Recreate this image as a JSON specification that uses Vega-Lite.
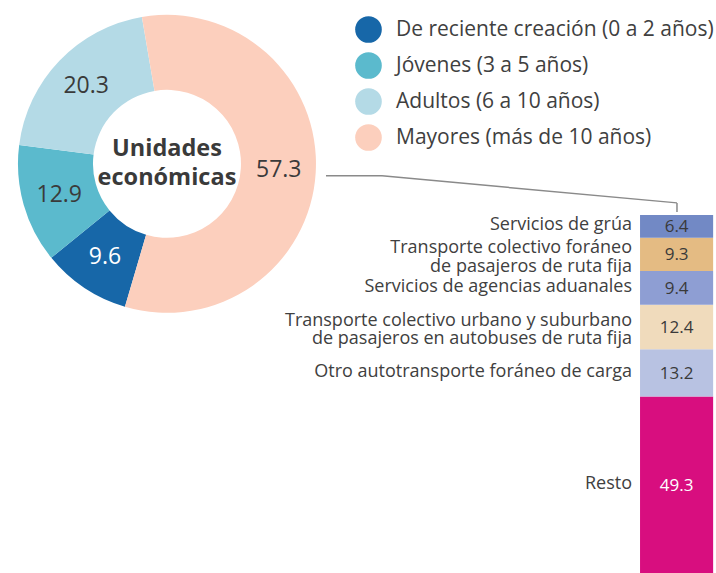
{
  "$schema": "https://vega.github.io/schema/vega-lite/v6.json",
  "width": 716,
  "height": 573,
  "autosize": {"type": "none"},
  "padding": 0,
  "background": "white",
  "config": {"view": {"stroke": null}, "font": "Open Sans"},
  "datasets": {
    "edad": [
      {"grupo": "De reciente creación (0 a 2 años)", "pct": 9.6, "orden": 2},
      {"grupo": "Jóvenes (3 a 5 años)", "pct": 12.9, "orden": 3},
      {"grupo": "Adultos (6 a 10 años)", "pct": 20.3, "orden": 4},
      {"grupo": "Mayores (más de 10 años)", "pct": 57.3, "orden": 1}
    ],
    "actividad": [
      {"actividad": "Resto", "pct": 49.3, "orden": 1},
      {"actividad": "Otro autotransporte foráneo de carga", "pct": 13.2, "orden": 2},
      {"actividad": "Transporte colectivo urbano y suburbano\nde pasajeros en autobuses de ruta fija", "pct": 12.4, "orden": 3},
      {"actividad": "Servicios de agencias aduanales", "pct": 9.4, "orden": 4},
      {"actividad": "Transporte colectivo foráneo\nde pasajeros de ruta fija", "pct": 9.3, "orden": 5},
      {"actividad": "Servicios de grúa", "pct": 6.4, "orden": 6}
    ],
    "uno": [{}]
  },
  "layer": [
    {
      "data": {"name": "edad"},
      "mark": {"type": "arc", "radius": 149, "innerRadius": 74},
      "encoding": {
        "x": {"datum": 23.32, "type": "quantitative", "scale": {"domain": [0, 100], "nice": false, "zero": false}, "axis": null},
        "y": {"datum": 114.25, "type": "quantitative", "scale": {"domain": [0, 160], "nice": false, "zero": false}, "axis": null},
        "theta": {"field": "pct", "type": "quantitative", "stack": true, "scale": {"range": [-0.169, 6.114]}},
        "order": {"field": "orden", "type": "quantitative"},
        "color": {
          "field": "grupo", "type": "nominal",
          "scale": {
            "domain": ["De reciente creación (0 a 2 años)", "Jóvenes (3 a 5 años)", "Adultos (6 a 10 años)", "Mayores (más de 10 años)"],
            "range": ["#1767a8", "#5bbacd", "#b4dae6", "#fccfbd"]
          },
          "legend": {
            "orient": "none", "legendX": 355, "legendY": 16, "title": null,
            "symbolType": "circle", "symbolSize": 710, "symbolStrokeWidth": 0, "symbolOpacity": 1,
            "labelFontSize": 21, "labelColor": "#404040", "labelFont": "Open Sans", "labelLimit": 400,
            "rowPadding": 9, "labelOffset": 14, "padding": 0
          }
        }
      }
    },
    {
      "data": {"name": "edad"},
      "mark": {"type": "text", "radius": 112, "fontSize": 23, "align": "center", "baseline": "middle"},
      "encoding": {
        "x": {"datum": 23.32, "type": "quantitative", "scale": {"domain": [0, 100], "nice": false, "zero": false}, "axis": null},
        "y": {"datum": 114.25, "type": "quantitative", "scale": {"domain": [0, 160], "nice": false, "zero": false}, "axis": null},
        "theta": {"field": "pct", "type": "quantitative", "stack": true, "scale": {"range": [-0.169, 6.114]}},
        "order": {"field": "orden", "type": "quantitative"},
        "text": {"field": "pct", "type": "quantitative", "format": ".1f"},
        "color": {"condition": {"test": "datum.orden === 2", "value": "#ffffff"}, "value": "#3a3a3a"}
      }
    },
    {
      "data": {"name": "uno"},
      "mark": {"type": "text", "fontSize": 23.5, "fontWeight": "bold", "align": "center", "baseline": "middle", "lineHeight": 29, "dy": -15, "color": "#3a3a3a"},
      "encoding": {
        "x": {"datum": 23.32, "type": "quantitative", "scale": {"domain": [0, 100], "nice": false, "zero": false}, "axis": null},
        "y": {"datum": 114.25, "type": "quantitative", "scale": {"domain": [0, 160], "nice": false, "zero": false}, "axis": null},
        "text": {"value": ["Unidades", "económicas"]}
      }
    },
    {
      "data": {"name": "actividad"},
      "transform": [
        {"stack": "pct", "groupby": [], "sort": [{"field": "orden", "order": "ascending"}], "as": ["y0", "y1"]},
        {"calculate": "(datum.y0 + datum.y1) / 2", "as": "ymid"}
      ],
      "layer": [
        {
          "mark": {"type": "rect"},
          "encoding": {
            "x": {"datum": 89.39, "type": "quantitative", "scale": {"domain": [0, 100], "nice": false, "zero": false}, "axis": null},
            "x2": {"datum": 99.6},
            "y": {"field": "y0", "type": "quantitative", "scale": {"domain": [0, 160], "nice": false, "zero": false}, "axis": null},
            "y2": {"field": "y1"},
            "fill": {
              "field": "actividad", "type": "nominal", "legend": null,
              "scale": {
                "domain": ["Resto", "Otro autotransporte foráneo de carga", "Transporte colectivo urbano y suburbano\nde pasajeros en autobuses de ruta fija", "Servicios de agencias aduanales", "Transporte colectivo foráneo\nde pasajeros de ruta fija", "Servicios de grúa"],
                "range": ["#d80e7f", "#b8c2e2", "#f0dbbc", "#8e9ed3", "#e4bb83", "#7289c5"]
              }
            }
          }
        },
        {
          "mark": {"type": "text", "fontSize": 17, "align": "center", "baseline": "middle", "dy": 1},
          "encoding": {
            "x": {"datum": 94.5, "type": "quantitative", "scale": {"domain": [0, 100], "nice": false, "zero": false}, "axis": null},
            "y": {"field": "ymid", "type": "quantitative", "scale": {"domain": [0, 160], "nice": false, "zero": false}, "axis": null},
            "text": {"field": "pct", "type": "quantitative", "format": ".1f"},
            "color": {"condition": {"test": "datum.orden === 1", "value": "#ffffff"}, "value": "#3a3a3a"}
          }
        },
        {
          "transform": [{"filter": "indexof(datum.actividad, '\\n') < 0"}],
          "mark": {"type": "text", "fontSize": 18, "align": "right", "baseline": "middle", "color": "#404040", "dy": -1},
          "encoding": {
            "x": {"datum": 88.27, "type": "quantitative", "scale": {"domain": [0, 100], "nice": false, "zero": false}, "axis": null},
            "y": {"field": "ymid", "type": "quantitative", "scale": {"domain": [0, 160], "nice": false, "zero": false}, "axis": null},
            "text": {"field": "actividad", "type": "nominal"}
          }
        },
        {
          "transform": [{"filter": "indexof(datum.actividad, '\\n') >= 0"}],
          "mark": {"type": "text", "fontSize": 18, "align": "right", "baseline": "middle", "lineBreak": "\n", "lineHeight": 18.5, "color": "#404040", "dy": -6},
          "encoding": {
            "x": {"datum": 88.27, "type": "quantitative", "scale": {"domain": [0, 100], "nice": false, "zero": false}, "axis": null},
            "y": {"field": "ymid", "type": "quantitative", "scale": {"domain": [0, 160], "nice": false, "zero": false}, "axis": null},
            "text": {"field": "actividad", "type": "nominal"}
          }
        }
      ]
    },
    {
      "data": {"name": "uno"},
      "mark": {"type": "rule", "color": "#8a8a8a", "strokeWidth": 1.5},
      "encoding": {
        "x": {"datum": 45.53, "type": "quantitative", "scale": {"domain": [0, 100], "nice": false, "zero": false}, "axis": null},
        "x2": {"datum": 53.35},
        "y": {"datum": 110.9, "type": "quantitative", "scale": {"domain": [0, 160], "nice": false, "zero": false}, "axis": null},
        "y2": {"datum": 110.9}
      }
    },
    {
      "data": {"name": "uno"},
      "mark": {"type": "rule", "color": "#8a8a8a", "strokeWidth": 1.5},
      "encoding": {
        "x": {"datum": 53.35, "type": "quantitative", "scale": {"domain": [0, 100], "nice": false, "zero": false}, "axis": null},
        "x2": {"datum": 94.55},
        "y": {"datum": 110.9, "type": "quantitative", "scale": {"domain": [0, 160], "nice": false, "zero": false}, "axis": null},
        "y2": {"datum": 103.35}
      }
    },
    {
      "data": {"name": "uno"},
      "mark": {"type": "rule", "color": "#8a8a8a", "strokeWidth": 1.5},
      "encoding": {
        "x": {"datum": 94.55, "type": "quantitative", "scale": {"domain": [0, 100], "nice": false, "zero": false}, "axis": null},
        "x2": {"datum": 94.55},
        "y": {"datum": 103.35, "type": "quantitative", "scale": {"domain": [0, 160], "nice": false, "zero": false}, "axis": null},
        "y2": {"datum": 100.8}
      }
    }
  ]
}
